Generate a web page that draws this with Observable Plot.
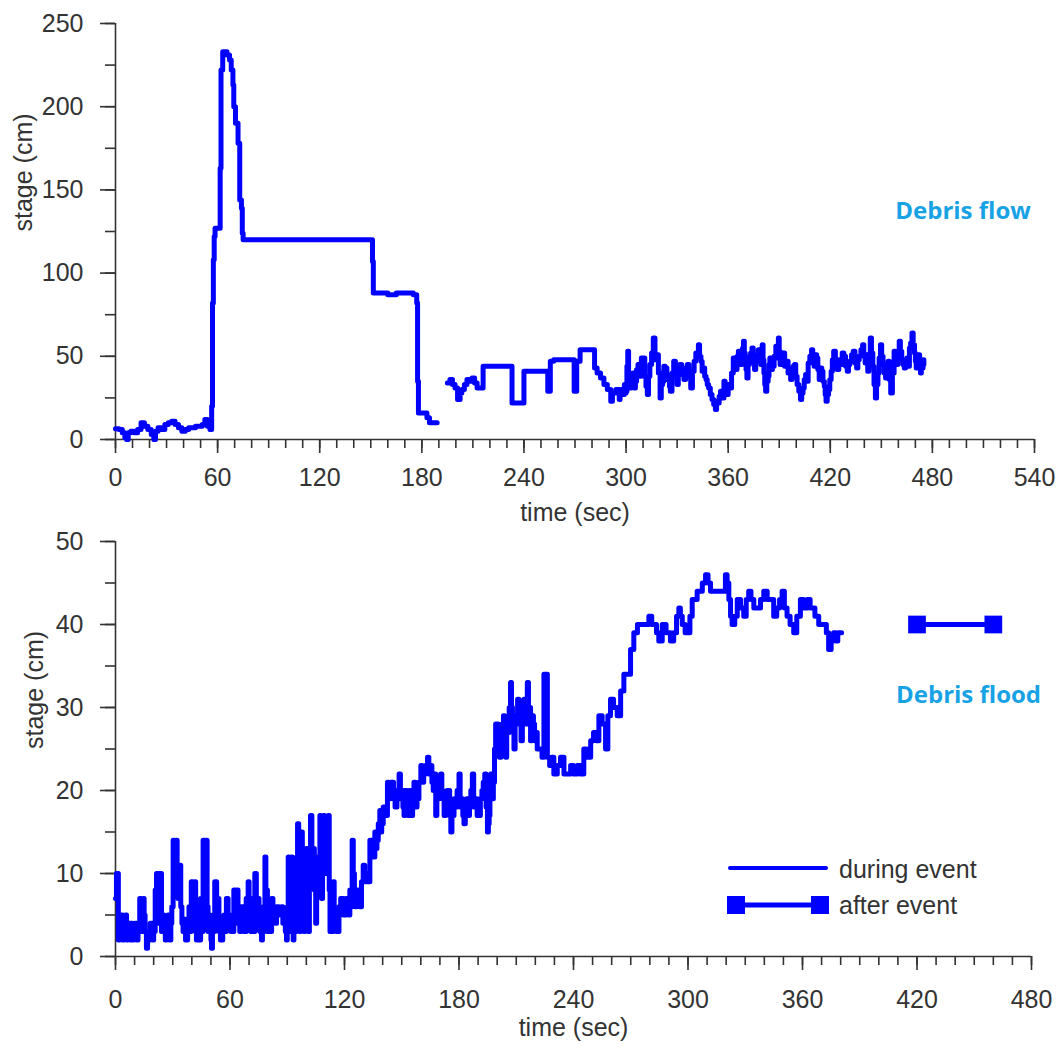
<!DOCTYPE html>
<html><head><meta charset="utf-8">
<script src="https://cdn.jsdelivr.net/npm/d3@7"></script>
<script src="https://cdn.jsdelivr.net/npm/@observablehq/plot@0.6"></script>
<style>
body{margin:0;background:#fff;}
#wrap{position:relative;width:1058px;height:1046px;overflow:hidden;}
#wrap svg{display:block;}
#legend{position:absolute;left:0;top:0;pointer-events:none;}
</style></head><body><div id="wrap"></div>
<script>
// ---------------- DATA ([time in s, stage in cm]) ----------------
// Top panel: Debris flow, first recorded segment
const flowSeg1 = [[0,6.5],[2,6],[4,4],[5.5,1],[6.5,0],[7.5,4],[9,5],[11,4],[13,6],[15,10],[17,8],[19,6],[21,3],[22.5,0],[23.5,5],[25,7],[27,6],[29,9],[31,10],[33,11],[35,9],[37,7],[39,5],[41,6],[43,7],[45,7],[47,8],[49,8],[51,9],[52.5,12],[54,8],[55.5,6],[56.5,20],[57,82],[57.5,108],[58,122],[58.5,127],[61.5,163],[62,222],[63,233],[65.5,231],[67,228],[68,222],[69,213],[69.5,200],[70.5,190],[72,178],[73,144],[74,139],[74.5,124],[75,120],[151,107],[151.5,88],[160,87],[165,88],[172,88],[175,87],[177,82],[177.5,35],[178,16],[183,13],[184.5,10],[189,10]];
// Top panel: Debris flow, second recorded segment
const flowSeg2 = [[195,34],[196.5,36],[198,33],[199.5,31],[201,24],[202.5,28],[203.5,30],[205,33],[206.5,36],[208,35],[209.5,37],[211,34],[212.5,31],[215.5,31],[216,44],[232.5,44],[233,22],[240,41],[254,29],[255.5,47],[257.5,48],[269.5,29],[271,47],[273,54],[281.5,43],[283,40],[285,37],[287,33],[289,30],[291,23],[292,28],[294,30],[296,24],[296.5,29],[297,30],[298,27],[299,33],[299.5,28],[300,29],[300.5,44],[301,53],[301.5,38],[302,31],[303,36],[304,40],[304.7,31],[305.5,35],[306.2,42],[307,45],[308,38],[309,49],[309.5,45],[310.2,49],[311,38],[311.7,32],[312.5,27],[313.2,38],[314,45],[315,52],[316,61],[317,48],[318,51],[319,40],[320,25],[320.7,33],[321.5,35],[322.2,44],[323,43],[324,36],[325,38],[325.5,32],[326,29],[327,40],[328,47],[329,38],[330,33],[330.7,41],[331.5,45],[332.7,39],[334,36],[335,43],[336,45],[337,38],[338,31],[339,41],[340,47],[341,52],[342.5,57],[343.2,50],[344,47],[344.7,41],[345.5,43],[346.2,38],[347,36],[347.7,33],[348.5,31],[349.5,27],[350.5,24],[351.5,21],[352.5,18],[353.2,23],[354,22],[354.7,26],[355.5,29],[356.5,25],[357.5,35],[358.2,30],[359,27],[360,33],[361,31],[362,40],[363,49],[363.7,44],[364.5,42],[365.2,50],[366,53],[367,45],[368,46],[368.5,55],[369,59],[369.5,52],[370,50],[370.5,42],[371,37],[371.7,45],[372.5,48],[373.2,52],[374,55],[374.7,47],[375.5,42],[376.2,50],[377,47],[377.7,54],[378.5,52],[379.2,45],[380,57],[380.5,48],[381,40],[381.5,33],[382,29],[382.7,35],[383.5,38],[384,45],[384.5,49],[385.2,42],[386,44],[387,50],[388,56],[388.7,49],[389.5,61],[390,53],[390.5,45],[391.2,50],[392,52],[393.2,44],[394.5,47],[395.2,40],[396,42],[396.7,36],[397.5,39],[398.2,44],[399,45],[399.7,38],[400.5,33],[401.5,29],[402.5,24],[403.2,28],[404,31],[404.7,36],[405.5,39],[406.2,35],[407,46],[408,50],[409,54],[409.7,47],[410.5,44],[411.2,51],[412,49],[412.7,42],[413.5,36],[414.2,43],[415,41],[415.7,35],[416.5,32],[417,27],[417.5,23],[418.2,27],[419,30],[419.7,36],[420.5,41],[421.2,48],[422,53],[423,46],[424,42],[425,48],[426,45],[427,52],[428,50],[429,44],[430,41],[430.7,45],[431.5,47],[432.5,51],[433.5,53],[434.5,46],[435.5,43],[436.2,48],[437,50],[438,54],[439,57],[439.7,50],[440.5,46],[441.2,51],[442,41],[442.7,49],[443.5,61],[444.2,52],[445,44],[445.7,33],[446.5,25],[447.2,33],[448,40],[448.7,49],[449.5,57],[450.2,50],[451,45],[451.7,40],[452.5,37],[453.2,43],[454,47],[454.7,36],[455.5,28],[456.5,40],[457.5,53],[458.2,48],[459,45],[459.7,52],[460.5,59],[461.2,53],[462,48],[462.7,45],[463.5,43],[464.2,47],[465,49],[465.7,44],[466.5,55],[467.2,58],[468,64],[468.7,57],[469.5,52],[470,47],[470.5,43],[471.2,48],[472,51],[472.5,45],[473,40],[473.5,47],[474,43],[474.5,48],[475,45]];

// Bottom panel: Debris flood, during event
const floodSeries = [[0,7],[0.5,10],[1.5,2],[2.2,5],[3,5],[3.7,2],[4.5,3],[5.2,5],[5.8,2],[6.5,4],[7,4],[7.7,2],[8.4,4],[9,2],[9.5,2.5],[10.2,4],[11,2],[11.8,4],[12.7,7],[13.5,3],[14.5,7],[15,5],[15.5,3],[16.2,1],[16.8,2],[17.5,2],[18.2,4],[18.9,4],[19.5,2],[20,3],[20.8,8],[21.5,10],[22.3,4],[23.2,10],[24.1,3],[24.8,5],[25.5,4],[26.1,2],[26.7,3.5],[27.5,5],[28.4,2],[29,4],[29.5,6],[30.2,14],[31,8],[31.9,14],[32.3,10],[32.8,7],[33.5,11],[34.2,6],[34.8,4],[35.4,3],[36.2,4.5],[36.7,2],[37.1,2],[37.8,4],[38.5,6],[39.1,3],[39.7,9],[40.5,5],[41.5,9],[42,3],[42.4,2],[43,6],[43.5,4],[44,2],[44.6,7],[45.2,3],[45.9,14],[46.7,7],[47.6,14],[48,6],[48.5,3],[49,5],[49.5,4],[50,2],[50.3,1],[50.8,3],[51.2,5],[51.6,3],[52,9],[53,5],[53.8,7],[54.2,3],[54.6,4],[55,2],[55.5,2],[56.2,4],[56.8,5],[57.5,3],[58.1,7],[59,4],[59.9,4],[60.5,3],[61,5],[61.5,3],[62,8],[62.7,4],[63.4,8],[64.2,4],[64.7,6],[65.1,3],[65.8,5],[66.4,6],[67,3],[67.7,5],[68.1,3],[68.5,7],[69,4],[69.5,9],[70,5],[70.5,6],[70.9,3],[71.3,3],[71.7,5],[72,7],[72.5,3],[73,10],[73.8,5],[74.8,7],[75.2,4],[75.6,3],[76,5],[76.5,2],[77,4],[77.5,6],[77.9,3],[78.3,12],[78.8,6],[79.2,8],[79.6,3],[80,3],[80.5,5],[81,5],[81.4,3],[81.8,7],[82.5,5],[83,6],[83.7,4],[84.4,5],[85,6],[85.5,5],[86.2,5],[87,6],[87.7,4],[88.5,5],[89,3],[89.6,2],[90,6],[90.5,12],[91,3],[91.5,5],[91.9,10],[92.3,12],[92.7,4],[93.1,2],[93.5,8],[94,7],[94.6,3],[95,12],[95.4,16],[96,10],[96.5,3],[97,9],[97.5,15],[97.9,12],[98.3,8],[98.8,3],[99.2,5],[99.6,10],[100,13],[100.5,7],[101,3],[101.6,9],[102.2,17],[102.9,11],[103.6,13],[104.2,8],[104.9,4],[105.4,9],[105.8,12],[106.5,8],[107.1,17],[107.5,12],[108,7],[108.5,11],[109,17],[109.5,12],[110,10],[110.7,14],[111.5,17],[112,8],[112.4,3],[112.8,5],[113.2,6],[113.6,3],[114.1,9],[114.6,5],[115,4],[115.8,3],[116.7,3],[117.1,6],[117.5,5],[118,7],[118.5,7],[119.3,5],[120.2,5],[120.8,7],[121.5,6],[122.1,5],[122.8,8],[123.4,6],[124,14],[124.6,10],[125.2,7],[125.7,6],[126.3,8],[127.2,7],[128.1,6],[128.9,9],[129.8,11],[130.6,9],[131.6,10],[132.5,9],[133.3,14],[134.5,12],[135.9,15],[136.5,13],[137,14],[137.7,16],[138.5,17.6],[139,15],[139.5,16],[140.3,18],[141,18],[141.7,17],[142.5,21],[143,19],[143.4,19],[144.2,21],[145,21],[145.7,19],[146.5,18],[147.5,20],[148.6,22],[149.3,19],[150,20],[150.6,18],[151.2,17],[151.8,20],[152.5,19],[153.3,17],[154,20],[154.5,18],[155,17],[155.7,19],[156.4,21],[157.2,18],[158,19],[159,21],[160,23],[160.7,21],[161.5,22],[162.5,23],[163.5,24],[164.2,22],[165,23],[165.8,21],[166.5,20],[167.2,22],[167.8,17],[168.4,20],[169,19],[169.7,21],[170.4,22],[171,20],[171.5,19],[172.2,17],[173,18],[173.7,20],[174.5,20],[175.1,17],[175.7,15],[176.3,18],[176.8,17],[177.4,19],[178,18],[179,20],[180,22],[180.6,18],[181.3,19],[182,17],[182.6,16],[183.3,18],[184,19],[184.8,17],[185.5,18],[186.2,20],[187,22],[187.7,18],[188.5,19],[189.5,17],[190.5,17],[191.2,19],[192,20],[192.7,21],[193.5,22],[194.2,18],[194.9,15],[195.4,16],[195.8,17],[196.2,20],[196.6,22],[197.3,19],[198,21],[198.6,25],[199.2,28],[200.5,27],[201.2,24],[202,26],[202.6,28],[203.3,29],[203.9,26],[204.5,24],[205,28],[205.5,27],[206.3,30],[207,33],[207.5,30],[208,29],[208.4,27],[208.8,25],[209.4,29],[210,28],[210.7,31],[211.4,30],[212,28],[212.5,26],[213.2,29],[214,31],[214.9,28],[215.8,33],[216.4,30],[217,30],[217.5,26],[218.2,29],[219,28],[219.6,26],[220.2,27],[221,25],[222.5,25],[223.5,24],[224.5,34],[226.3,24],[227.5,23],[228.5,24],[229.7,22],[231.5,23],[233.2,24],[235,22],[236.7,22],[238.5,23],[240,22],[242,23],[243.5,22],[245.4,25],[247,24],[249,26],[250.5,27],[252,26],[253.3,29],[255,28],[256.8,25],[258,29],[259.4,31],[261,30],[262.9,29],[264.7,32],[266.4,34],[268.2,34],[269.9,37],[271.6,39],[273.5,40],[275.1,40],[277,40],[279.5,41],[281,40],[282,40],[283.5,39],[284.7,38],[286.5,40],[288.5,39],[290.8,38],[292.5,39],[294,41],[295.2,42],[296,41],[297,40],[298.5,39],[299.6,39],[301,41],[302.2,43],[303.5,43],[304.8,44],[306,44],[307.5,45],[309.2,46],[310.5,45],[311.8,44],[314,44],[316.1,44],[317.5,44],[319.6,46],[320.5,45],[321.4,43],[322.3,41],[323.1,40],[324.5,41],[325.8,43],[327.5,42],[329.2,41],[330.5,43],[331.8,44],[333,43],[334.5,42],[336.2,42],[338,43],[339.7,44],[341.5,43],[343.2,43],[344.9,41],[346.5,42],[348,43],[349.3,44],[350.5,42],[351.9,41],[353.5,40],[355.4,39],[357,41],[358.9,43],[360.5,42],[362.4,43],[364,42],[365,42],[366.5,41],[368.5,40],[370,40],[371.1,40],[372.5,39],[373.7,37],[375,38],[376.3,39],[377.5,38],[378.5,39],[379.8,39],[380.5,39]];
// Bottom panel: after event
const afterSeries = [[420,40],[460,40]];

const topXTicks = d3.range(0, 541, 60);
const topXMinor = d3.range(0, 541, 10);
const topYTicks = d3.range(0, 251, 50);
const topYMinor = d3.range(0, 251, 25);
const botXTicks = d3.range(0, 481, 60);
const botXMinor = d3.range(0, 481, 10);
const botYTicks = d3.range(0, 51, 10);
const botYMinor = d3.range(0, 51, 5);

const flowLabel = {t: 498, v: 137, text: "Debris flow"};
const floodLabel = {t: 447, v: 31.5, text: "Debris flood"};

// ---------------- BUILD ----------------
const flowData = [
  ...flowSeg1.map(([t, v]) => ({t, v, seg: "a"})),
  ...flowSeg2.map(([t, v]) => ({t, v, seg: "b"}))
];
const floodData = floodSeries.map(([t, v]) => ({t, v}));
const afterData = afterSeries.map(([t, v]) => ({t, v}));

const axisColor = "#333";
const blue = "#0000ff";
const annColor = "#17a2e6";
const baseStyle = {fontFamily: "'Liberation Sans', Arial, sans-serif", fontSize: "25px", color: "#333", background: "transparent", overflow: "visible"};

function axes(xMinor, xMajor, yMinor, yMajor, xPad) {
  return [
    Plot.axisX(xMinor, {tickSize: 9, tickFormat: () => "", stroke: axisColor, strokeWidth: 1.6, label: null}),
    Plot.axisX(xMajor, {tickSize: 14, tickPadding: xPad, stroke: axisColor, strokeWidth: 1.6, label: null, fill: "#333"}),
    Plot.axisY(yMinor, {tickSize: 10, tickFormat: () => "", stroke: axisColor, strokeWidth: 1.6, label: null}),
    Plot.axisY(yMajor, {tickSize: 15, tickPadding: 17, stroke: axisColor, strokeWidth: 1.6, label: null, fill: "#333"}),
    Plot.ruleY([0], {stroke: axisColor, strokeWidth: 1.6}),
    Plot.ruleX([0], {stroke: axisColor, strokeWidth: 1.6})
  ];
}

const topPlot = Plot.plot({
  width: 1058, height: 520,
  marginLeft: 115, marginRight: 24, marginTop: 23, marginBottom: 81,
  x: {domain: [0, 540], label: null},
  y: {domain: [0, 250], label: null},
  style: baseStyle,
  marks: [
    ...axes(topXMinor, topXTicks, topYMinor, topYTicks, 15),
    Plot.line(flowData, {x: "t", y: "v", z: "seg", curve: "step-after", stroke: blue, strokeWidth: 5, strokeLinejoin: "round", strokeLinecap: "round"}),
    Plot.text(["time (sec)"], {frameAnchor: "bottom", dy: 73, lineAnchor: "middle", fill: "#333", fontSize: 25}),
    Plot.text(["stage (cm)"], {frameAnchor: "left", dx: -92, rotate: -90, lineAnchor: "middle", fill: "#333", fontSize: 25}),
    Plot.text([flowLabel], {x: "t", y: "v", text: "text", fill: annColor, fontSize: 24, fontWeight: "bold", fontFamily: "'Open Sans', 'Noto Sans', sans-serif"})
  ]
});

const botPlot = Plot.plot({
  width: 1058, height: 526,
  marginLeft: 115, marginRight: 27, marginTop: 21, marginBottom: 90,
  x: {domain: [0, 480], label: null},
  y: {domain: [0, 50], label: null},
  style: baseStyle,
  marks: [
    ...axes(botXMinor, botXTicks, botYMinor, botYTicks, 20),
    Plot.line(floodData, {x: "t", y: "v", curve: "step-after", stroke: blue, strokeWidth: 5, strokeLinejoin: "round", strokeLinecap: "round"}),
    Plot.line(afterData, {x: "t", y: "v", stroke: blue, strokeWidth: 5}),
    Plot.dot(afterData, {x: "t", y: "v", symbol: "square", r: 10, fill: blue, stroke: "none"}),
    Plot.text(["time (sec)"], {frameAnchor: "bottom", dy: 71, lineAnchor: "middle", fill: "#333", fontSize: 25}),
    Plot.text(["stage (cm)"], {frameAnchor: "left", dx: -81, rotate: -90, lineAnchor: "middle", fill: "#333", fontSize: 25}),
    Plot.text([floodLabel], {x: "t", y: "v", text: "text", fill: annColor, fontSize: 24, fontWeight: "bold", fontFamily: "'Open Sans', 'Noto Sans', sans-serif"})
  ]
});

const wrap = document.getElementById("wrap");
wrap.appendChild(topPlot);
wrap.appendChild(botPlot);

// Legend (overlay, bottom panel)
const legend = `
<svg id="legend" width="1058" height="1046" xmlns="http://www.w3.org/2000/svg" style="font-family:'Liberation Sans', Arial, sans-serif;font-size:25px;">
  <line x1="730" y1="868" x2="826" y2="868" stroke="${blue}" stroke-width="4" stroke-linecap="round"/>
  <text x="839" y="878" fill="#333">during event</text>
  <line x1="736" y1="905" x2="820" y2="905" stroke="${blue}" stroke-width="5"/>
  <rect x="727" y="896" width="18" height="18" fill="${blue}"/>
  <rect x="811" y="896" width="18" height="18" fill="${blue}"/>
  <text x="839" y="914" fill="#333">after event</text>
</svg>`;
wrap.insertAdjacentHTML("beforeend", legend);
</script>
</body></html>
